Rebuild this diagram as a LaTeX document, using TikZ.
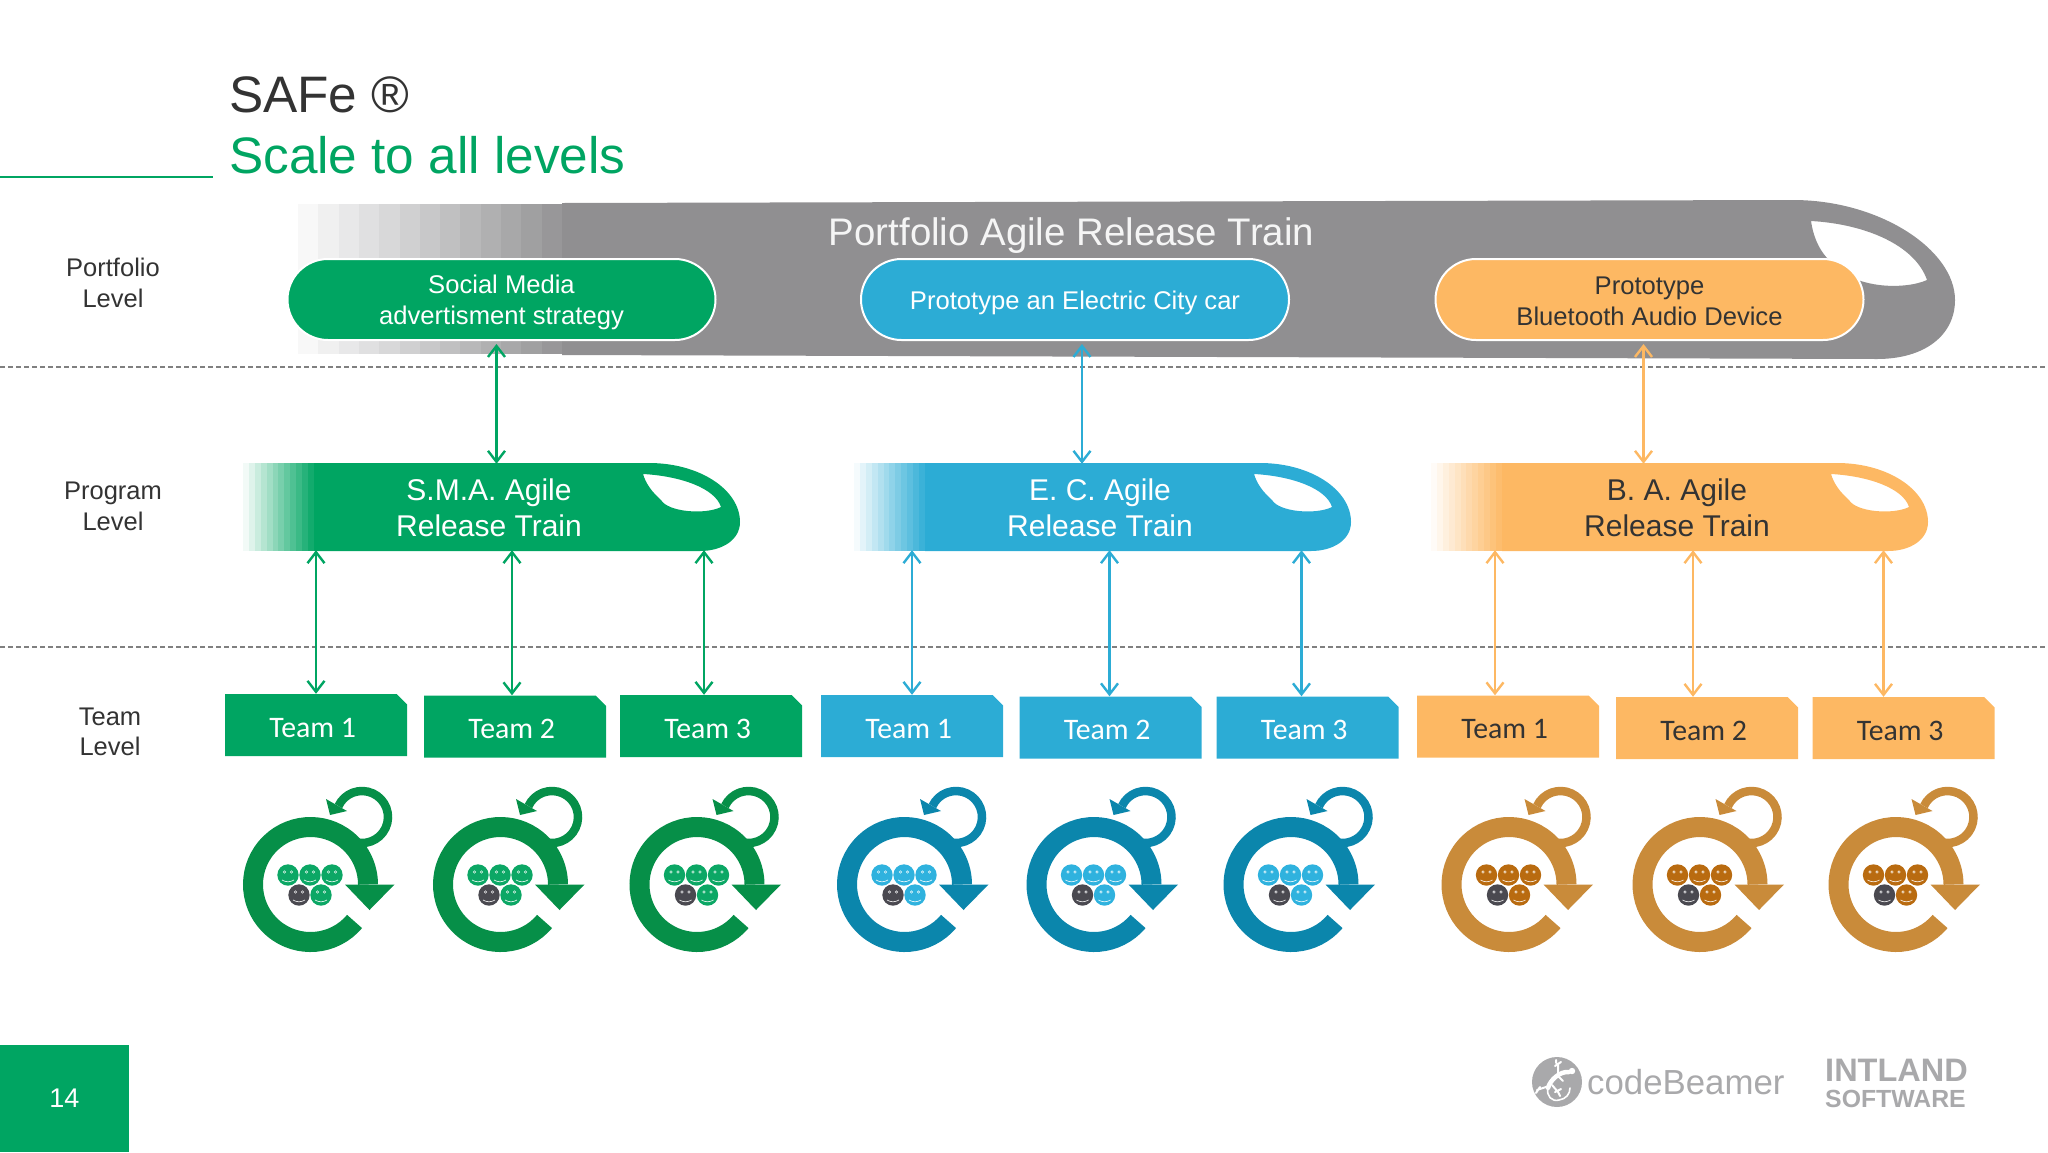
\documentclass[tikz,border=0pt]{standalone}
\usepackage{fontspec}
\setmainfont{Liberation Sans}
\newfontfamily\teamfont{Carlito}
\usetikzlibrary{arrows.meta,shapes.misc}

\definecolor{safeGreen}{HTML}{00A562}
\definecolor{safeBlue}{HTML}{2CACD5}
\definecolor{safeOrange}{HTML}{FDB863}
\definecolor{trainGray}{HTML}{908F91}
\definecolor{textDark}{HTML}{333333}
\definecolor{logoGray}{HTML}{A9A9AB}
\definecolor{ringGreen}{HTML}{068F48}
\definecolor{ringBlue}{HTML}{0B86AC}
\definecolor{ringOrange}{HTML}{C98B3A}
\definecolor{faceGreen}{HTML}{0CA765}
\definecolor{faceBlue}{HTML}{2FB2DE}
\definecolor{faceOrange}{HTML}{B96B10}
\definecolor{faceDark}{HTML}{4A4950}
\colorlet{faceringGreen}{faceGreen}
\colorlet{faceringBlue}{faceBlue}
\colorlet{faceringOrange}{faceOrange}

\newcommand{\pillstrut}{\rule{0pt}{25pt}}

\tikzset{
  levellabel/.style={text=textDark,align=center,inner sep=0pt,font=\fontsize{25.5}{30.5}\selectfont},
  pillbox/.style={rounded rectangle,draw=white,line width=2pt,minimum width=428pt,minimum height=81pt,
    inner sep=0pt,align=center,font=\fontsize{25.6}{31}\selectfont},
  trainlabel/.style={minimum width=300pt,minimum height=88pt,inner sep=0pt,align=center,
    font=\fontsize{30}{36}\selectfont},
  teambox/.style={chamfered rectangle,chamfered rectangle corners=north east,chamfered rectangle sep=5.2pt,
    minimum width=182pt,minimum height=62pt,inner sep=0pt,text height=24pt,text depth=0pt,
    font=\teamfont\fontsize{29.8}{34}\selectfont},
  linkarrow/.style={{Straight Barb[length=11pt,width=17pt]}-{Straight Barb[length=11pt,width=17pt]},line width=2.4pt},
  levelline/.style={dash pattern=on 4.5pt off 3.5pt,line width=1.5pt,draw=black!50},
  scrumicon/.pic={
    \begin{scope}[y=1pt]
      % big sprint ring and its head
      \draw[line width=20pt,draw=#1] (-40:57.5) arc[start angle=-40,end angle=-360,radius=57.5];
      \fill[#1] (34.5,0) -- (84,0) -- (59,-25.5) -- cycle;
      % small daily loop
      \draw[line width=8.5pt,draw=#1] (51.5,67.5) ++(-115:26) arc[start angle=-115,end angle=155,radius=26];
      \fill[#1] (15.5,85.5) -- (19.5,69.5) -- (36.5,73.5) -- cycle;
      \foreach \fx/\fy/\fc in {-22.5/9.5/face#1,-0.5/9.5/face#1,21.5/9.5/face#1,-11.5/-10.5/faceDark,10.5/-10.5/face#1}{
        \fill[\fc] (\fx,\fy) circle (10.7);
        \draw[white!85!\fc,line width=.6pt] (\fx-3.5,\fy+3) circle (1.2) (\fx+3.5,\fy+3) circle (1.2);
        \draw[white!85!\fc,line width=.7pt] (\fx-6,\fy-5) to[bend right=30] (\fx+6,\fy-5);
      }
    \end{scope}
  }
}

\begin{document}
\begin{tikzpicture}[x=1pt,y=-1pt]
  \useasboundingbox (0,0) rectangle (2048,1152);

  % title
  \node[anchor=base west,inner sep=0pt,text=textDark,font=\fontsize{51.3}{60}\selectfont] (titleTop) at (229,112) {SAFe ®};
  \node[anchor=base west,inner sep=0pt,text=safeGreen,font=\fontsize{51.3}{60}\selectfont] (titleSub) at (229,173) {Scale to all levels};
  \draw[safeGreen,line width=2pt] (0,177) -- (213,177);

  % level lines
  \draw[levelline] (0,367) -- (2048,367);
  \draw[levelline] (0,647) -- (2048,647);

  \node[levellabel] (portfolioLevel) at (113,283) {Portfolio\\Level};
  \node[levellabel] (programLevel) at (113,506.5) {Program\\Level};
  \node[levellabel] (teamLevel) at (110,732) {Team\\Level};

  % portfolio train
  \foreach \i in {0,...,12}{
    \pgfmathsetmacro{\pct}{6+\i*7.2}
    \fill[trainGray!\pct!white] (298+\i*20.3,204) rectangle (319+\i*20.3,354);
  }
  \fill[trainGray,even odd rule] (562,203) -- (1793,200) .. controls (1880,200) and (1955,250) .. (1955,300)
    .. controls (1955,335) and (1925,359) .. (1877,359) -- (562,355) -- cycle
    (1811,221) .. controls (1865,224) and (1915,245) .. (1927,280)
    .. controls (1905,290) and (1850,290) .. (1827,258) .. controls (1818,248) and (1813,235) .. (1811,221) -- cycle;
  \node[inner sep=0pt,text=white!96!black,font=\fontsize{38.4}{46}\selectfont] (portfolioTitle) at (1071.5,235.5) {Portfolio Agile Release Train};

  \node[pillbox,fill=safeGreen,text=white] (smaPill) at (501.5,299.5) {\pillstrut Social Media\\advertisment strategy};
  \node[pillbox,fill=safeBlue,text=white] (ecPill) at (1075,299.5) {\pillstrut Prototype an Electric City car};
  \node[pillbox,fill=safeOrange,text=textDark] (baPill) at (1649.5,299.5) {\rule{0pt}{21.5pt}Prototype\\Bluetooth Audio Device};

  % program trains
  \foreach \tname/\dx/\tcol/\tfg/\ttext in {
      smaTrain/0/safeGreen/white/{S.M.A. Agile\\Release Train},
      ecTrain/611/safeBlue/white/{E. C. Agile\\Release Train},
      baTrain/1188/safeOrange/textDark/{B. A. Agile\\Release Train}}{
    \begin{scope}[xshift=\dx pt]
      \foreach \i in {0,...,11}{
        \pgfmathsetmacro{\pct}{5+\i*8}
        \fill[\tcol!\pct!white] (243+\i*5.9,463) rectangle (249.6+\i*5.9,551);
      }
      \fill[\tcol,even odd rule] (314,463) -- (649,463) .. controls (700,463) and (740,490) .. (740,522)
        .. controls (740,540) and (722,551) .. (700,551) -- (314,551) -- cycle
        (643,474) .. controls (680,476) and (715,488) .. (721,507)
        .. controls (705,515) and (668,512) .. (661,500) .. controls (652,492) and (646,484) .. (643,474) -- cycle;
      \node[trainlabel,text=\tfg] (\tname) at (489,508) {\ttext};
    \end{scope}
  }

  % team boxes
  \foreach \tm/\tx/\ty/\tcol/\tfg/\tnum in {
      g1/316/725/safeGreen/white/1,g2/515/726.5/safeGreen/white/2,g3/711/726/safeGreen/white/3,
      b1/912/726/safeBlue/white/1,b2/1110.5/727.5/safeBlue/white/2,b3/1307.5/727.5/safeBlue/white/3,
      o1/1508/726.5/safeOrange/textDark/1,o2/1707/728/safeOrange/textDark/2,o3/1903.5/728/safeOrange/textDark/3}{
    \node[teambox,fill=\tcol,text=\tfg] (\tm) at (\tx,\ty) {Team \tnum\kern6.6pt};
  }

  % links
  \draw[linkarrow,safeGreen,shorten <=3pt] ([xshift=-5pt]smaPill.south) -- ([xshift=-5pt]smaPill.south |- smaTrain.north);
  \draw[linkarrow,safeBlue,shorten <=3pt] ([xshift=7pt]ecPill.south) -- ([xshift=7pt]ecPill.south |- ecTrain.north);
  \draw[linkarrow,safeOrange,shorten <=3pt] ([xshift=-6pt]baPill.south) -- ([xshift=-6pt]baPill.south |- baTrain.north);
  \foreach \tm/\off/\tname/\tcol in {
      g1/0/smaTrain/safeGreen,g2/-3/smaTrain/safeGreen,g3/-7/smaTrain/safeGreen,
      b1/0/ecTrain/safeBlue,b2/-1/ecTrain/safeBlue,b3/-6/ecTrain/safeBlue,
      o1/-13/baTrain/safeOrange,o2/-14/baTrain/safeOrange,o3/-20/baTrain/safeOrange}{
    \draw[linkarrow,\tcol,shorten <=-2pt] ([xshift=\off pt]\tm.north |- \tname.south) -- ([xshift=\off pt]\tm.north);
  }

  % scrum icons
  \foreach \ix/\icol in {310.5/Green,500.5/Green,697/Green,904.5/Blue,1094/Blue,1291/Blue,1509/Orange,1700/Orange,1896/Orange}{
    \pic at (\ix,884.5) {scrumicon=ring\icol};
  }

  % page number
  \node[fill=safeGreen,minimum width=129pt,minimum height=107pt,inner sep=0pt,text=white,font=\fontsize{27}{32}\selectfont] (pageBox) at (64.5,1098.5) {14};

  % logos
  \fill[logoGray] (1557,1082) circle (25);
  \draw[white,line width=4.5pt,line cap=round] (1569,1072) .. controls (1560,1071) and (1550,1080) .. (1548,1088);
  \fill[white] (1572,1071) circle (3.2);
  \draw[white,line width=1.6pt,line cap=round] (1548,1088) .. controls (1546,1096) and (1552,1102) .. (1559,1100)
    .. controls (1566,1099) and (1570,1094) .. (1570,1088);
  \draw[white,line width=2pt,line cap=round] (1558,1075) -- (1558,1064) (1555,1066) -- (1561,1062) (1556,1063) -- (1556,1060)
    (1549,1086) -- (1537,1090) (1540,1087) -- (1536,1093)
    (1552,1085) -- (1558,1092) (1555,1092) -- (1561,1089) (1558,1092) -- (1560,1096)
    (1558,1076) -- (1563,1081);
  \node[anchor=base west,inner sep=0pt,text=logoGray,font=\fontsize{34.8}{40}\selectfont] (codeBeamerLogo) at (1587,1094) {codeBeamer};
  \node[anchor=base west,inner sep=0pt,text=logoGray,font=\bfseries\fontsize{32.5}{38}\selectfont] (intlandLogo) at (1825,1081) {INTLAND};
  \node[anchor=base west,inner sep=0pt,text=logoGray,font=\bfseries\fontsize{24.8}{30}\selectfont] (softwareLogo) at (1825,1107) {SOFTWARE};
\end{tikzpicture}
\end{document}
